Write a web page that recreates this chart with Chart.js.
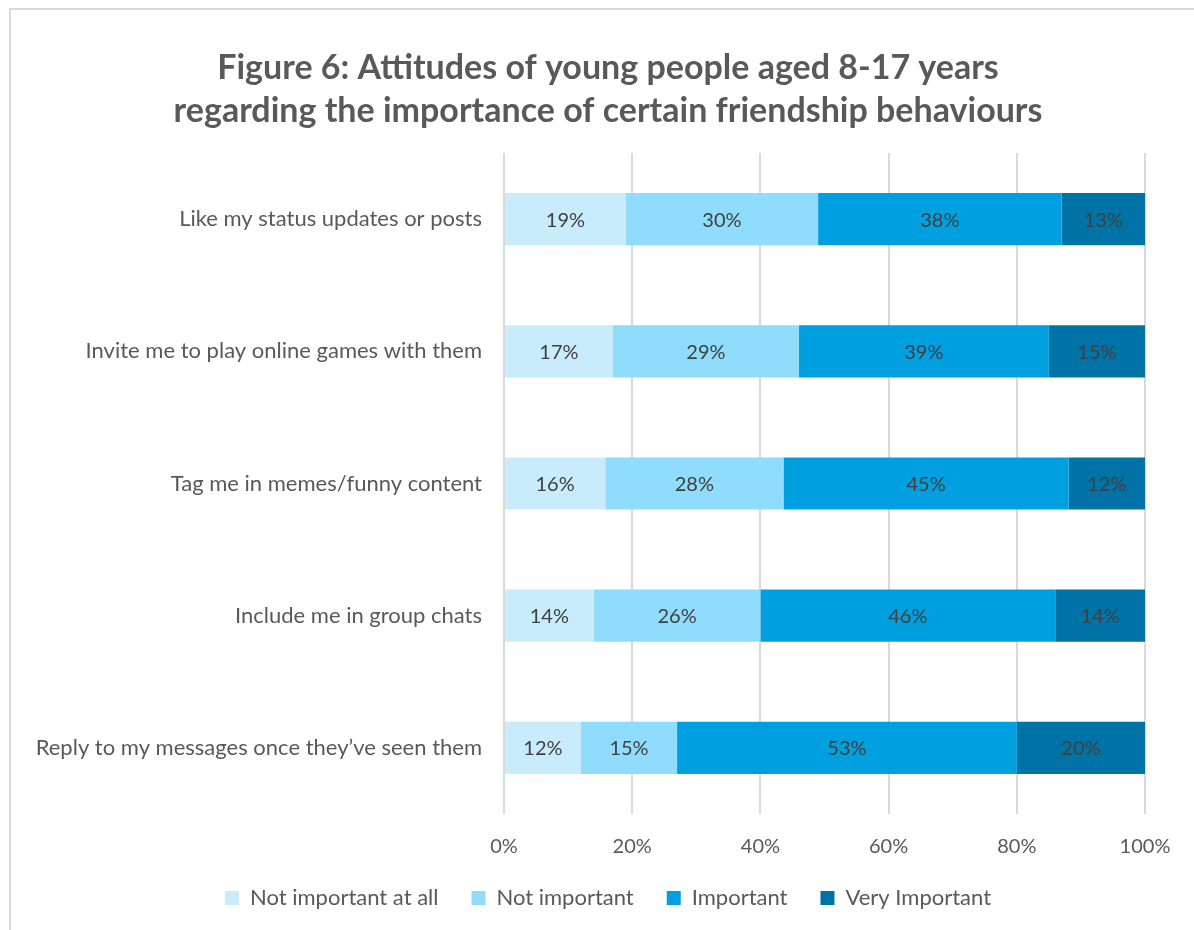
<!DOCTYPE html>
<html>
<head>
<meta charset="utf-8">
<script src="https://cdn.jsdelivr.net/npm/chart.js@4/dist/chart.umd.min.js"></script>
<style>
    html, body { margin: 0; padding: 0; background: #ffffff; overflow: hidden; }
    #frame {
        position: absolute; left: 9px; top: 8px; width: 1200px; height: 940px;
        border-top: 2px solid #d9d9d9; border-left: 2px solid #d9d9d9;
    }
    #wrap { position: absolute; left: 11px; top: 10px; width: 1194px; height: 920px; }
</style>
</head>
<body>
<div id="frame"></div>
<div id="wrap"><canvas id="friendChart" width="1194" height="920"></canvas></div>
<script>
// data (percent of young people)
const categories = [
    'Like my status updates or posts',
    'Invite me to play online games with them',
    'Tag me in memes/funny content',
    'Include me in group chats',
    'Reply to my messages once they\u2019ve seen them'
];
const seriesNames = ['Not important at all', 'Not important', 'Important', 'Very Important'];
const notImportantAtAll = [19, 17, 15.8, 14, 12];
const notImportant = [30, 29, 27.8, 26, 15];
const important = [38, 39, 44.5, 46, 53];
const veryImportant = [13, 15, 11.9, 14, 20];
const xTicks = [0, 20, 40, 60, 80, 100];
const colours = ['#c9ecfd', '#8fdcfc', '#009fe0', '#0073a6'];

const fontFamily = 'Lato, "Liberation Sans", sans-serif';

// draws the value labels in the middle of each bar segment
const segmentLabels = {
    id: 'segmentLabels',
    afterDatasetsDraw(chart) {
        const ctx = chart.ctx;
        ctx.save();
        ctx.font = '20px ' + fontFamily;
        ctx.fillStyle = '#404040';
        ctx.textAlign = 'center';
        ctx.textBaseline = 'middle';
        chart.data.datasets.forEach((ds, i) => {
            const meta = chart.getDatasetMeta(i);
            meta.data.forEach((bar, j) => {
                const mid = (bar.x + bar.base) / 2;
                ctx.fillText(Math.round(ds.data[j]) + '%', mid, bar.y + 1);
            });
        });
        ctx.restore();
    }
};

const seriesValues = [notImportantAtAll, notImportant, important, veryImportant];

new Chart(document.getElementById('friendChart').getContext('2d'), {
    type: 'bar',
    data: {
        labels: categories,
        datasets: seriesNames.map((name, i) => ({
            label: name,
            data: seriesValues[i],
            backgroundColor: colours[i],
            borderWidth: 0,
            categoryPercentage: 1,
            barPercentage: 0.395
        }))
    },
    options: {
        indexAxis: 'y',
        responsive: false,
        animation: false,
        layout: { padding: { left: 0, right: 0, top: 37, bottom: 11 } },
        plugins: {
            title: {
                display: true,
                text: ['Figure 6: Attitudes of young people aged 8-17 years',
                    'regarding the importance of certain friendship behaviours'],
                color: '#595959',
                font: { family: fontFamily, size: 34, weight: 'bold', lineHeight: 1.25 },
                padding: { top: 0, bottom: 21 }
            },
            legend: {
                position: 'bottom',
                labels: {
                    color: '#595959',
                    font: { family: fontFamily, size: 22 },
                    boxWidth: 14,
                    boxHeight: 14,
                    padding: 33
                }
            },
            tooltip: { enabled: false }
        },
        scales: {
            x: {
                stacked: true,
                min: 0,
                max: 100,
                afterBuildTicks(scale) {
                    scale.ticks = xTicks.map(v => ({ value: v }));
                },
                afterFit(scale) {
                    scale.height = 40;
                    scale.paddingRight = 60; // room on the right of the plot
                },
                ticks: {
                    color: '#595959',
                    font: { family: fontFamily, size: 20 },
                    padding: 21,
                    callback: v => v + '%'
                },
                grid: { color: '#d9d9d9', lineWidth: 2, drawTicks: false },
                border: { display: false }
            },
            y: {
                stacked: true,
                afterFit(scale) { scale.width = 493; },
                ticks: {
                    color: '#595959',
                    font: { family: fontFamily, size: 22 },
                    padding: 14
                },
                grid: { display: false },
                border: { display: false }
            }
        }
    },
    plugins: [segmentLabels]
});
</script>
</body>
</html>
